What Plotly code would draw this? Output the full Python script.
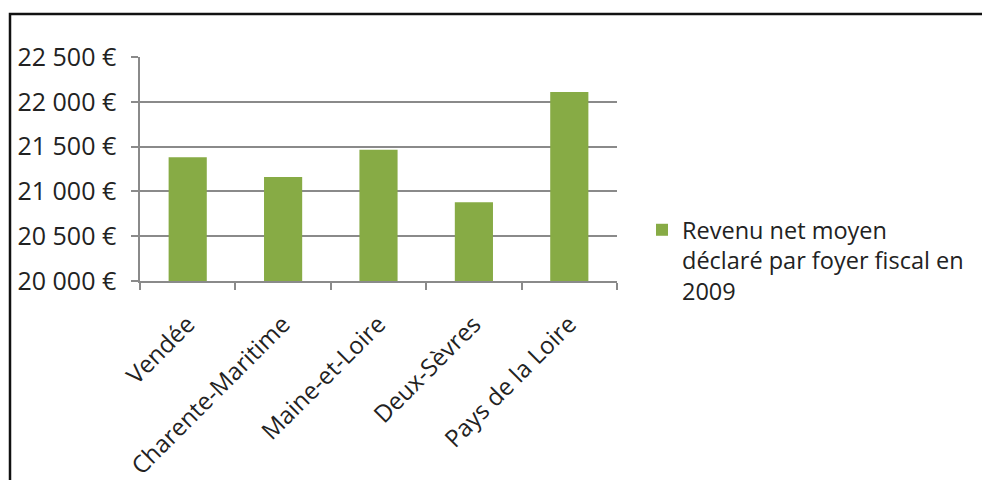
import plotly.graph_objects as go

categories = ["Vendée", "Charente-Maritime", "Maine-et-Loire", "Deux-Sèvres", "Pays de la Loire"]
revenu_2009 = [21380, 21160, 21465, 20880, 22110]
series_name = "Revenu net moyen<br>déclaré par foyer fiscal en<br>2009"
y_tick_vals = [20000, 20500, 21000, 21500, 22000, 22500]
y_tick_text = ["20 000 €", "20 500 €", "21 000 €", "21 500 €", "22 000 €", "22 500 €"]

FONT = "'Open Sans', Lato, sans-serif"
GREEN = "#87AB45"
GRID = "#8a8a8a"
TXT = "#222222"

fig = go.Figure()
fig.add_trace(go.Bar(
    x=categories, y=revenu_2009, name=series_name,
    marker=dict(color=GREEN, line=dict(width=0)),
    width=0.4, showlegend=True,
))

W, H = 982, 480
L, R, T, B = 140, 365, 57, 199
pw, ph = W - L - R, H - T - B

def px_x(p):
    return (p - L) / pw

def px_y(p):
    return (H - B - p) / ph

fig.update_layout(
    width=W, height=H,
    margin=dict(l=L, r=R, t=T, b=B, pad=0, autoexpand=False),
    paper_bgcolor="white", plot_bgcolor="white",
    font=dict(family=FONT, size=22, color=TXT),
    xaxis=dict(
        type="category",
        tickangle=-45,
        ticks="outside", ticklen=7, tickcolor=GRID, tickwidth=1.5,
        tickson="boundaries",
        showline=True, linecolor=GRID, linewidth=1.5,
        showgrid=False,
        tickfont=dict(family=FONT, size=24, color=TXT),
        ticklabelstandoff=18,
        automargin=False,
    ),
    yaxis=dict(
        range=[20000, 22500],
        tickvals=y_tick_vals, ticktext=y_tick_text,
        ticks="outside", ticklen=7, tickcolor=GRID, tickwidth=1.5,
        showline=True, linecolor=GRID, linewidth=1.5,
        showgrid=True, gridcolor=GRID, gridwidth=1.5,
        tickfont=dict(family=FONT, size=25, color=TXT),
        ticklabelstandoff=10,
        zeroline=False,
        automargin=False,
    ),
    legend=dict(
        x=px_x(642), y=px_y(208), xanchor="left", yanchor="top",
        font=dict(family=FONT, size=23.5, color=TXT),
        bgcolor="rgba(0,0,0,0)", valign="top",
        itemwidth=30,
    ),
    shapes=[dict(
        type="rect", xref="paper", yref="paper",
        x0=px_x(10), x1=px_x(1010), y0=px_y(14), y1=px_y(520),
        line=dict(color="#111111", width=2.5), fillcolor="rgba(0,0,0,0)",
        layer="above",
    )],
)

fig.write_html("out.html")
